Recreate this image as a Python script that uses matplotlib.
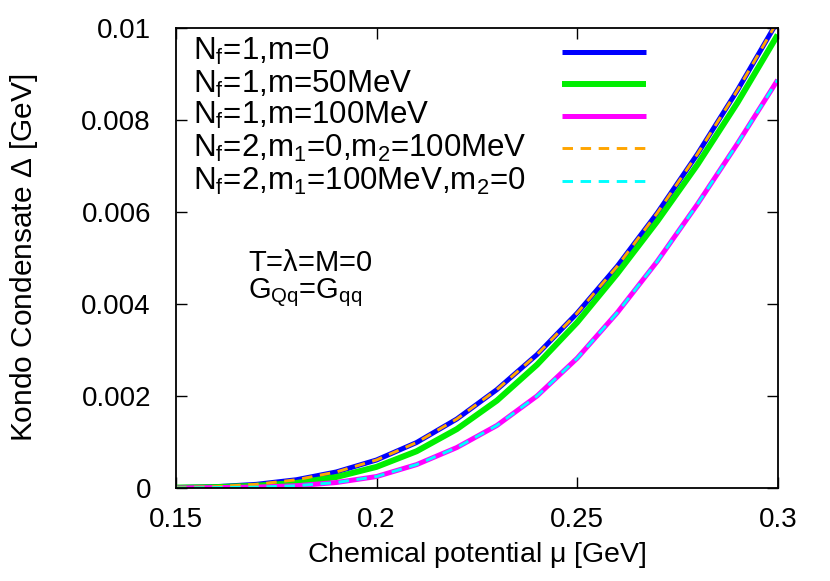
import numpy as np
import matplotlib
matplotlib.use('Agg')
import matplotlib.pyplot as plt

plt.rcParams['font.family'] = ['Liberation Sans', 'DejaVu Sans']
plt.rcParams['mathtext.fontset'] = 'custom'
plt.rcParams['mathtext.rm'] = 'Liberation Sans'
plt.rcParams['mathtext.it'] = 'Liberation Sans'

# chemical potential mu [GeV]
mu = [0.15, 0.16, 0.17, 0.18, 0.19, 0.20, 0.21, 0.22,
      0.23, 0.24, 0.25, 0.26, 0.27, 0.28, 0.29, 0.30]

# Kondo condensate Delta [GeV]
nf1_m0 = [0.00001, 0.00003, 0.00008, 0.00018, 0.00035, 0.00061, 0.00099, 0.00150,
          0.00214, 0.00290, 0.00380, 0.00482, 0.00598, 0.00726, 0.00865, 0.01015]
nf1_m50 = [0.00001, 0.00002, 0.00005, 0.00011, 0.00024, 0.00046, 0.00080, 0.00128,
           0.00190, 0.00268, 0.00360, 0.00466, 0.00580, 0.00703, 0.00838, 0.00985]
nf1_m100 = [0.0, 0.00001, 0.00002, 0.00005, 0.00012, 0.00025, 0.00051, 0.00088,
            0.00136, 0.00200, 0.00282, 0.00381, 0.00493, 0.00617, 0.00749, 0.00887]
nf2_m0_m100 = [0.00001, 0.00003, 0.00008, 0.00018, 0.00035, 0.00061, 0.00099, 0.00150,
               0.00214, 0.00290, 0.00380, 0.00482, 0.00598, 0.00726, 0.00865, 0.01015]
nf2_m100_m0 = [0.0, 0.00001, 0.00002, 0.00005, 0.00012, 0.00025, 0.00051, 0.00088,
               0.00136, 0.00200, 0.00282, 0.00381, 0.00493, 0.00617, 0.00749, 0.00887]

labels = [r'N$_\mathrm{f}$=1,m=0',
          r'N$_\mathrm{f}$=1,m=50MeV',
          r'N$_\mathrm{f}$=1,m=100MeV',
          r'N$_\mathrm{f}$=2,m$_\mathrm{1}$=0,m$_\mathrm{2}$=100MeV',
          r'N$_\mathrm{f}$=2,m$_\mathrm{1}$=100MeV,m$_\mathrm{2}$=0']

series = [nf1_m0, nf1_m50, nf1_m100, nf2_m0_m100, nf2_m100_m0]
colors = ['#0000ff', '#00ee00', '#ff00ff', '#ffa500', '#00ffff']
widths = [3.6, 4.3, 3.6, 2.1, 2.1]
dashed = [False, False, False, True, True]

fig = plt.figure(figsize=(8.30, 5.81), dpi=100)
ax = fig.add_axes([0.212, 0.160, 0.725, 0.792])

leg_y = [0.948, 0.878, 0.809, 0.739, 0.667]
for i in range(len(series)):
    kw = dict(color=colors[i], lw=widths[i], solid_capstyle='butt',
              solid_joinstyle='round')
    if dashed[i]:
        kw['dashes'] = (3.6, 2.6)
    ax.plot(mu, series[i], **kw)
    # legend entry: text left, sample on the right
    ax.text(0.028, leg_y[i], labels[i], transform=ax.transAxes,
            fontsize=22.5, va='center', ha='left')
    ax.plot([0.641, 0.781], [leg_y[i], leg_y[i]], transform=ax.transAxes, **kw)

ax.text(0.12, 0.49, r'T=$\lambda$=M=0', transform=ax.transAxes,
        fontsize=21, va='center')
ax.text(0.12, 0.425, r'G$_\mathrm{Qq}$=G$_\mathrm{qq}$', transform=ax.transAxes,
        fontsize=21, va='center')

ax.set_xlim(0.15, 0.3)
ax.set_ylim(0, 0.01)
ax.set_xticks([0.15, 0.2, 0.25, 0.3])
ax.set_xticklabels(['0.15', '0.2', '0.25', '0.3'])
ax.set_yticks([0, 0.002, 0.004, 0.006, 0.008, 0.01])
ax.set_yticklabels(['0', '0.002', '0.004', '0.006', '0.008', '0.01'])
ax.tick_params(direction='in', length=8, width=1, top=True, right=True,
               labelsize=20)
ax.tick_params(axis='x', pad=14)
ax.tick_params(axis='y', pad=18)
for s in ax.spines.values():
    s.set_linewidth(1.3)

ax.set_xlabel(r'Chemical potential $\mathrm{\mu}$ [GeV]', fontsize=20.5, labelpad=5)
ax.set_ylabel(r'Kondo Condensate $\Delta$ [GeV]', fontsize=21.5, labelpad=30)

fig.savefig('out.png', dpi=100)
